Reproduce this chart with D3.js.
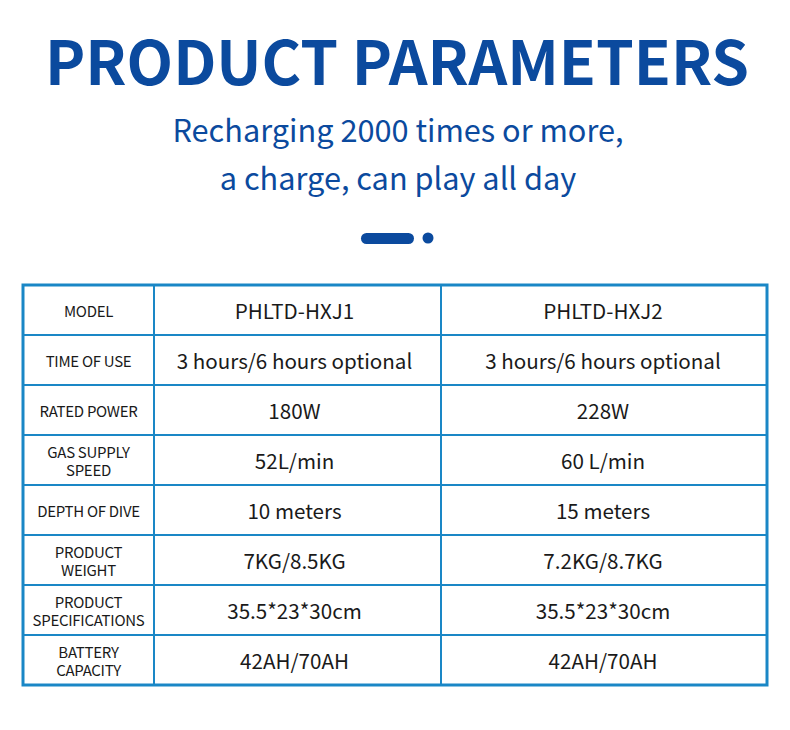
<!DOCTYPE html>
<html><head><meta charset="utf-8">
<script src="https://cdn.jsdelivr.net/npm/d3@7"></script>
<style>body{margin:0;background:#fff;}svg{display:block;}</style>
</head><body>
<script>
const title = "PRODUCT PARAMETERS";
const subtitle = ["Recharging 2000 times or more,", "a charge, can play all day"];
const columns = ["MODEL", "PHLTD-HXJ1", "PHLTD-HXJ2"];
const rowLabels = [["TIME OF USE"], ["RATED POWER"], ["GAS SUPPLY", "SPEED"], ["DEPTH OF DIVE"], ["PRODUCT", "WEIGHT"], ["PRODUCT", "SPECIFICATIONS"], ["BATTERY", "CAPACITY"]];
const model1 = ["3 hours/6 hours optional", "180W", "52L/min", "10 meters", "7KG/8.5KG", "35.5*23*30cm", "42AH/70AH"];
const model2 = ["3 hours/6 hours optional", "228W", "60 L/min", "15 meters", "7.2KG/8.7KG", "35.5*23*30cm", "42AH/70AH"];

(function () {
const W = 790, H = 730;
const font = "'Noto Sans CJK SC', 'Noto Sans', sans-serif";
const dark = "#0b4a9e", lineCol = "#1a87c6", txt = "#1a1a1a";
const svg = d3.select("body").append("svg").attr("width", W).attr("height", H);

svg.append("text").attr("x", 397).attr("y", 85).attr("text-anchor", "middle")
  .attr("font-family", font).attr("font-weight", 700).attr("font-size", 60.5)
  .attr("fill", dark).text(title);
subtitle.forEach((s, i) => svg.append("text").attr("x", 398).attr("y", 142 + i * 48)
  .attr("text-anchor", "middle").attr("font-family", font).attr("font-size", 30.7)
  .attr("fill", dark).text(s));
svg.append("rect").attr("x", 361).attr("y", 233).attr("width", 53).attr("height", 11).attr("rx", 5.5).attr("fill", dark);
svg.append("circle").attr("cx", 428).attr("cy", 238).attr("r", 5.5).attr("fill", dark);

const x0 = 23, x1 = 767, y0 = 285, y1 = 685;
const allRows = [[columns[0]]].concat(rowLabels);
const y = d3.scaleBand().domain(d3.range(allRows.length)).range([y0, y1]);
const colEdges = [x0, 154, 441, x1];

const g = svg.append("g");
g.selectAll("line.h").data(d3.range(1, allRows.length)).join("line").attr("class", "h")
  .attr("x1", x0).attr("x2", x1).attr("y1", d => y(d)).attr("y2", d => y(d))
  .attr("stroke", lineCol).attr("stroke-width", 2);
g.selectAll("line.v").data([colEdges[1], colEdges[2]]).join("line").attr("class", "v")
  .attr("x1", d => d).attr("x2", d => d).attr("y1", y0).attr("y2", y1)
  .attr("stroke", lineCol).attr("stroke-width", 2);
g.append("rect").attr("x", x0).attr("y", y0).attr("width", x1 - x0).attr("height", y1 - y0)
  .attr("fill", "none").attr("stroke", lineCol).attr("stroke-width", 3);

const c0 = (colEdges[0] + colEdges[1]) / 2, c1 = (colEdges[1] + colEdges[2]) / 2 - 3, c2 = (colEdges[2] + colEdges[3]) / 2 - 1;
allRows.forEach((lab, i) => {
  const cy = y(i) + y.bandwidth() / 2;
  lab.forEach((l, k) => svg.append("text").attr("x", c0).attr("text-anchor", "middle")
    .attr("font-family", font).attr("font-size", 15).attr("fill", txt).attr("letter-spacing", -0.3)
    .attr("y", cy + 7 + (k - (lab.length - 1) / 2) * 18).text(l));
  const v1 = i === 0 ? columns[1] : model1[i - 1];
  const v2 = i === 0 ? columns[2] : model2[i - 1];
  [[c1, v1], [c2, v2]].forEach(([cx, v]) => svg.append("text").attr("x", cx).attr("y", cy + 9)
    .attr("text-anchor", "middle").attr("font-family", font).attr("font-size", 20.6)
    .attr("fill", txt).text(v));
});
})();
</script>
</body></html>
